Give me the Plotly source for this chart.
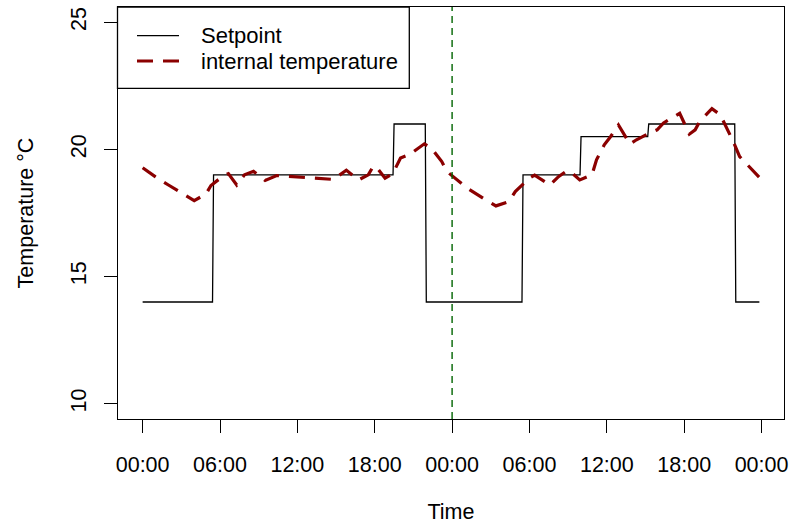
import plotly.graph_objects as go

# Hours since the start of the two-day window
setpoint_time = [0, 5.42, 5.5, 19.42, 19.5, 21.92, 22.0, 29.42, 29.5,
                 33.92, 34.0, 39.17, 39.25, 45.92, 46.0, 47.83]
setpoint_value = [14, 14, 19, 19, 21, 21, 14, 14, 19,
                  19, 20.5, 20.5, 21, 21, 14, 14]

temp_time = [0.0, 1.0, 2.0, 3.0, 4.0, 4.9, 5.3, 6.3, 6.65, 7.3, 7.9, 8.6,
             9.5, 10.4, 11.7, 12.5, 13.9, 14.8, 15.8, 16.75, 17.5, 17.9,
             18.2, 18.8, 19.4, 20.0, 20.7, 21.85, 22.4, 23.2, 23.6, 24.6,
             25.2, 26.4, 27.4, 28.4, 28.9, 30.0, 30.4, 31.6, 32.25, 32.9,
             33.3, 33.9, 34.85, 35.2, 35.8, 36.3, 36.9, 37.8, 38.3, 39.3,
             39.9, 40.4, 41.4, 41.65, 42.4, 42.85, 43.2, 44.15, 44.8, 45.3,
             45.8, 46.3, 46.9, 47.83]
temp_value = [19.28, 18.92, 18.60, 18.30, 17.99, 18.24, 18.58, 18.98, 19.05,
              18.60, 19.00, 19.14, 18.78, 18.97, 18.92, 18.89, 18.84, 18.82,
              19.18, 18.80, 19.00, 19.35, 19.26, 18.87, 19.05, 19.66, 19.80,
              20.22, 20.05, 19.52, 19.13, 18.73, 18.47, 18.08, 17.78, 17.95,
              18.34, 18.87, 18.99, 18.60, 18.93, 19.16, 19.07, 18.80, 19.00,
              19.59, 20.18, 20.51, 20.96, 20.21, 20.38, 20.64, 20.77, 21.04,
              21.36, 21.42, 20.60, 20.77, 21.10, 21.60, 21.36, 20.84, 20.31,
              19.72, 19.39, 18.90]

midnight_marker = 24

x_tick_vals = [0, 6, 12, 18, 24, 30, 36, 42, 48]
x_tick_text = ["00:00", "06:00", "12:00", "18:00", "00:00",
               "06:00", "12:00", "18:00", "00:00"]
y_tick_vals = [10, 15, 20, 25]

series_names = ["Setpoint", "internal temperature"]

FONT = "Liberation Sans, Arial, Helvetica, sans-serif"
FS = 21.5
RED = "#8B0000"
GREEN = "#006400"

fig = go.Figure()
fig.add_trace(go.Scatter(x=setpoint_time, y=setpoint_value, mode="lines",
                         name=series_names[0],
                         line=dict(color="black", width=1.3)))
fig.add_trace(go.Scatter(x=temp_time, y=temp_value, mode="lines",
                         name=series_names[1],
                         line=dict(color=RED, width=3.2, dash="16px,10px")))

fig.add_vline(x=midnight_marker, line=dict(color=GREEN, width=1.4, dash="7px,5px"))

# Plot area in pixels: x 118..784, y 7..419
W, H = 789, 524
L, R, T, B = 118, 5, 7, 105
pw, ph = W - L - R, H - T - B


def px(xp):
    return (xp - L) / pw


def py(yp):
    return (H - B - yp) / ph


# legend box drawn in the top-left corner
fig.add_shape(type="rect", xref="paper", yref="paper",
              x0=px(117.5), x1=px(409.3), y0=py(88.3), y1=py(7),
              line=dict(color="black", width=1.3), fillcolor="white", layer="above")
fig.add_shape(type="line", xref="paper", yref="paper",
              x0=px(137), x1=px(179), y0=py(35.7), y1=py(35.7),
              line=dict(color="black", width=1.3), layer="above")
fig.add_shape(type="line", xref="paper", yref="paper",
              x0=px(137), x1=px(179), y0=py(61), y1=py(61),
              line=dict(color=RED, width=3.2, dash="16px,10px"), layer="above")
for name, yy in zip(series_names, [35.7, 61]):
    fig.add_annotation(text=name, xref="paper", yref="paper",
                       x=px(199), y=py(yy), xanchor="left", yanchor="middle",
                       showarrow=False, font=dict(family=FONT, size=22, color="black"))

axis_common = dict(showgrid=False, zeroline=False, showline=True, mirror=True,
                   linecolor="black", linewidth=1.3, ticks="outside", ticklen=13,
                   tickwidth=1.3, tickcolor="black",
                   tickfont=dict(family=FONT, size=FS, color="black"),
                   automargin=False)

fig.update_layout(
    width=W, height=H,
    margin=dict(l=L, r=R, t=T, b=B),
    paper_bgcolor="white", plot_bgcolor="white",
    showlegend=False,
    xaxis=dict(range=[-1.91, 49.74], tickvals=x_tick_vals, ticktext=x_tick_text,
               ticklabelstandoff=13,
               title=dict(text="Time", font=dict(family=FONT, size=FS, color="black"),
                          standoff=30),
               **axis_common),
    yaxis=dict(range=[9.4, 25.6], tickvals=y_tick_vals, tickangle=-90,
               ticklabelstandoff=9,
               title=dict(text="Temperature °C", font=dict(family=FONT, size=FS, color="black"),
                          standoff=27),
               **axis_common),
)

fig.write_html("out.html")
